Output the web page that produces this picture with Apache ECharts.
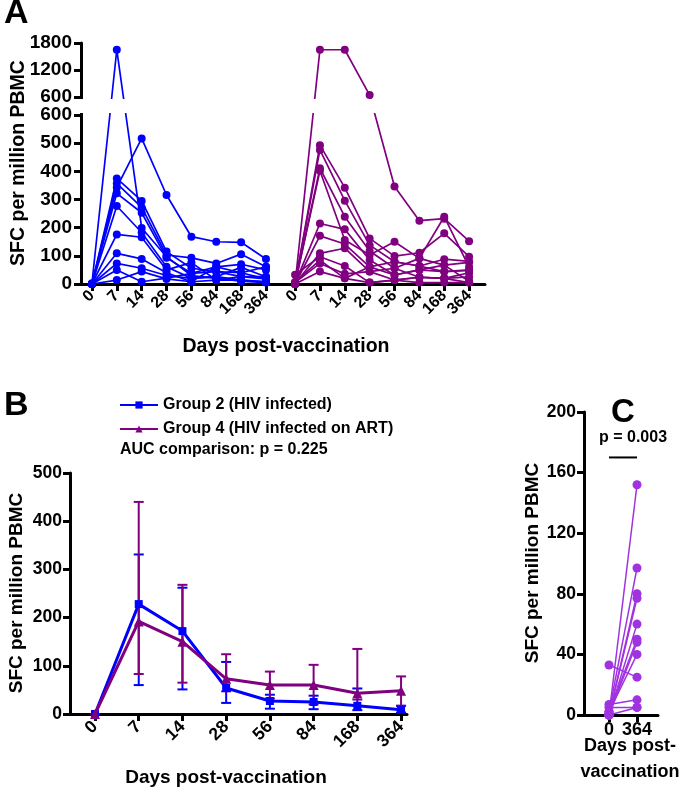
<!DOCTYPE html>
<html><head><meta charset="utf-8">
<script src="https://cdn.jsdelivr.net/npm/echarts@6/dist/echarts.min.js"></script>
<style>html,body{margin:0;padding:0;background:#fff}#c{width:680px;height:791px}</style>
</head><body><div id="c"></div>
<script>
// ---------- DATA ----------
const days = ['0','7','14','28','56','84','168','364'];

// Panel A, Group 2 (blue) individual subjects
const g2_s1  = [3, 1650, 199, 97, 30, 20, 10, 5];
const g2_s2  = [0, 343, 517, 316, 168, 150, 148, 89];
const g2_s3  = [0, 375, 295, 115, 56, 44, 40, 18];
const g2_s4  = [0, 357, 272, 103, 93, 73, 106, 61];
const g2_s5  = [0, 322, 253, 93, 38, 61, 70, 50];
const g2_s6  = [0, 277, 183, 61, 20, 26, 59, 26];
const g2_s7  = [0, 176, 166, 50, 76, 14, 26, 18];
const g2_s8  = [0, 109, 89, 40, 8, 61, 40, 61];
const g2_s9  = [0, 73, 56, 30, 20, 26, 14, 8];
const g2_s10 = [0, 50, 8, 21, 38, 44, 26, 26];
const g2_s11 = [0, 14, 44, 18, 8, 14, 14, 8];

// Panel A, Group 4 (purple) individual subjects
const g4_s1  = [0, 1650, 1650, 644, 346, 225, 232, 152];
const g4_s2  = [2, 493, 342, 162, 99, 111, 180, 97];
const g4_s3  = [0, 476, 296, 138, 79, 64, 88, 80];
const g4_s4  = [0, 411, 239, 117, 56, 91, 67, 77];
const g4_s5  = [0, 402, 156, 103, 150, 91, 239, 60];
const g4_s6  = [2, 215, 194, 85, 32, 50, 44, 50];
const g4_s7  = [0, 171, 142, 61, 79, 64, 44, 48];
const g4_s8  = [2, 109, 127, 44, 56, 24, 20, 40];
const g4_s9  = [33, 97, 64, 5, 14, 24, 20, 25];
const g4_s10 = [7, 85, 20, 61, 32, 50, 67, 10];
const g4_s11 = [5, 73, 36, 44, 14, 24, 20, 5];
const g4_s12 = [0, 44, 20, 5, 14, 5, 5, 5];

// Panel A y-axis tick labels
const aLowerTicks = [0, 100, 200, 300, 400, 500, 600];
const aUpperTicks = [600, 1200, 1800];

// Panel B means and error bars
const g2_mean = [0, 228, 172, 54, 27, 25, 17, 9];
const g2_hi   = [0, 331, 262, 108, 40, 38, 53, 17];
const g2_lo   = [0, 60, 51, 23, 11, 10, 8, 3];
const g4_mean = [0, 192, 150, 73, 60, 60, 43, 48];
const g4_hi   = [0, 440, 268, 124, 88, 102, 135, 78];
const g4_lo   = [0, 83, 65, 47, 32, 20, 30, 17];

// Panel C: Group 4 day 0 vs day 364
const cDays = ['0', '364'];
const c_day0   = [0, 2, 0, 0, 0, 2, 0, 2, 33, 7, 5, 0];
const c_day364 = [152, 97, 80, 77, 60, 50, 48, 40, 25, 10, 5, 5];
const c_sigLevel = 170;

// ---------- helpers ----------
const BLUE = '#0000FF', PURPLE = '#800080', VIOLET = '#A032E0';
const FONT = 'Liberation Sans, Arial, sans-serif';
const BREAK_LOW = 600, BREAK_GAP = 63.8, UPPER_RATIO = 0.16;
const G4_OFF = 8.17;
function tfUpper(v){ return BREAK_LOW + BREAK_GAP + (v - BREAK_LOW) * UPPER_RATIO; }
function tf(v){ return v <= BREAK_LOW ? v : tfUpper(v); }
function inv(d){ return d <= BREAK_LOW + 1e-6 ? d : BREAK_LOW + (d - BREAK_LOW - BREAK_GAP) / UPPER_RATIO; }
const aYTicks = aLowerTicks.map(v => v).concat(aUpperTicks.map(tfUpper));
const aXTicks = days.map((d,i)=>i).concat(days.map((d,i)=>G4_OFF + i));

const g2Subjects = [g2_s1,g2_s2,g2_s3,g2_s4,g2_s5,g2_s6,g2_s7,g2_s8,g2_s9,g2_s10,g2_s11];
const g4Subjects = [g4_s1,g4_s2,g4_s3,g4_s4,g4_s5,g4_s6,g4_s7,g4_s8,g4_s9,g4_s10,g4_s11,g4_s12];

const series = [];
g2Subjects.forEach((s, k) => series.push({
  type:'line', xAxisIndex:0, yAxisIndex:0, name:'g2_'+k,
  data: s.map((v,i)=>[i, tf(v)]), symbol:'circle', symbolSize:8,
  lineStyle:{color:BLUE,width:1.7}, itemStyle:{color:BLUE}, z:3, silent:true
}));
g4Subjects.forEach((s, k) => series.push({
  type:'line', xAxisIndex:0, yAxisIndex:0, name:'g4_'+k,
  data: s.map((v,i)=>[G4_OFF + i, tf(v)]), symbol:'circle', symbolSize:8,
  lineStyle:{color:PURPLE,width:1.7}, itemStyle:{color:PURPLE}, z:3, silent:true
}));
// break mask (hides the axis gap region)
series.push({
  type:'custom', xAxisIndex:0, yAxisIndex:0, z:20, silent:true, clip:false,
  data:[[0, BREAK_LOW]],
  renderItem: function(params, api){
    const cs = params.coordSys;
    const yLow = api.coord([0, BREAK_LOW])[1];
    const yUp = api.coord([0, BREAK_LOW + BREAK_GAP])[1];
    return {type:'rect', shape:{x: cs.x - 8, y: yUp + 2, width: cs.width + 12, height: yLow - yUp - 4},
      style:{fill:'#fff'}};
  }
});

function errRender(color){
  return function(params, api){
    const x = api.value(0), lo = api.value(1), hi = api.value(2);
    const a = api.coord([x, hi]), b = api.coord([x, lo]);
    const w = 5;
    const st = {stroke: color, lineWidth: 2};
    return {type:'group', children:[
      {type:'line', shape:{x1:a[0],y1:a[1],x2:b[0],y2:b[1]}, style:st},
      {type:'line', shape:{x1:a[0]-w,y1:a[1],x2:a[0]+w,y2:a[1]}, style:st},
      {type:'line', shape:{x1:b[0]-w,y1:b[1],x2:b[0]+w,y2:b[1]}, style:st}
    ]};
  };
}
series.push({type:'custom', xAxisIndex:1, yAxisIndex:1, z:4, silent:true,
  data: days.map((d,i)=>[i, g2_lo[i], g2_hi[i]]), encode:{x:0,y:[1,2]}, renderItem: errRender(BLUE)});
series.push({type:'custom', xAxisIndex:1, yAxisIndex:1, z:4, silent:true,
  data: days.map((d,i)=>[i, g4_lo[i], g4_hi[i]]), encode:{x:0,y:[1,2]}, renderItem: errRender(PURPLE)});
series.push({type:'line', name:'Group 2 (HIV infected)', xAxisIndex:1, yAxisIndex:1, z:5,
  data: g2_mean.map((v,i)=>[i,v]), symbol:'rect', symbolSize:8,
  lineStyle:{color:BLUE,width:3}, itemStyle:{color:BLUE}});
series.push({type:'line', name:'Group 4 (HIV infected on ART)', xAxisIndex:1, yAxisIndex:1, z:6,
  data: g4_mean.map((v,i)=>[i,v]), symbol:'triangle', symbolSize:10,
  lineStyle:{color:PURPLE,width:3}, itemStyle:{color:PURPLE}});

// Panel C
c_day0.forEach((v,k)=>series.push({type:'line', xAxisIndex:2, yAxisIndex:2, silent:true,
  data:[[0, v],[1, c_day364[k]]], symbol:'circle', symbolSize:9,
  lineStyle:{color:VIOLET,width:1.5}, itemStyle:{color:VIOLET}}));
series.push({type:'line', xAxisIndex:2, yAxisIndex:2, silent:true, symbol:'none',
  data:[[0, c_sigLevel],[1, c_sigLevel]], lineStyle:{color:'#000',width:2}});

const bold = (size)=>({fontFamily:FONT, fontWeight:'bold', fontSize:size, color:'#000'});
const axLine = {show:true, onZero:false, lineStyle:{color:'#000', width:3}};
const axTick = (len, vals)=>({show:true, length:len, customValues: vals, lineStyle:{color:'#000', width:3}});

const option = {
  animation:false,
  backgroundColor:'#fff',
  grid:[
    {left:81, top:43, width:404, height:241},
    {left:70, top:473, width:337, height:241},
    {left:584, top:412, width:74, height:303}
  ],
  xAxis:[
    {gridIndex:0, type:'value', min:-0.44, max:15.81, axisLine:axLine,
     axisTick: axTick(7, aXTicks), splitLine:{show:false},
     axisLabel:{customValues:aXTicks, rotate:45, margin:9, ...bold(16),
       formatter:(v)=>days[Math.round(v >= G4_OFF - 0.5 ? v - G4_OFF : v)]}},
    {gridIndex:1, type:'value', min:-0.572, max:7.136, axisLine:axLine,
     axisTick: axTick(7, days.map((d,i)=>i)), splitLine:{show:false},
     axisLabel:{customValues:days.map((d,i)=>i), rotate:45, margin:10, ...bold(17.5),
       formatter:(v)=>days[Math.round(v)]}},
    {gridIndex:2, type:'value', min:-0.893, max:1.75, axisLine:axLine,
     axisTick: axTick(7, [0,1]), splitLine:{show:false},
     axisLabel:{customValues:[0,1], margin:6, ...bold(18), formatter:(v)=>cDays[Math.round(v)]}}
  ],
  yAxis:[
    {gridIndex:0, type:'value', min:0, max:tfUpper(1800), axisLine:axLine,
     axisTick: axTick(7, aYTicks), splitLine:{show:false},
     axisLabel:{customValues:aYTicks, margin:9, ...bold(19), formatter:(v)=>String(Math.round(inv(v)))}},
    {gridIndex:1, type:'value', min:0, max:500, interval:100, axisLine:axLine,
     axisTick:{show:true, length:7, lineStyle:{color:'#000',width:3}}, splitLine:{show:false},
     axisLabel:{margin:8, ...bold(17.5)}},
    {gridIndex:2, type:'value', min:0, max:200, interval:40, axisLine:axLine,
     axisTick:{show:true, length:7, lineStyle:{color:'#000',width:3}}, splitLine:{show:false},
     axisLabel:{margin:8, ...bold(17.5)}}
  ],
  legend:{data:['Group 2 (HIV infected)','Group 4 (HIV infected on ART)'], orient:'vertical',
    left:114, top:392, itemWidth:38, itemHeight:9, itemGap:8, textStyle:bold(16), selectedMode:false},
  graphic:[
    {type:'text', left:4, top:-3, style:{text:'A', font:'bold 34px '+FONT, fill:'#000'}},
    {type:'text', left:4, top:389, style:{text:'B', font:'bold 34px '+FONT, fill:'#000'}},
    {type:'text', left:611, top:396, style:{text:'C', font:'bold 33px '+FONT, fill:'#000'}},
    {type:'text', x:19, y:163, rotation:Math.PI/2, style:{text:'SFC per million PBMC', font:'bold 19.5px '+FONT, fill:'#000', align:'center', verticalAlign:'middle'}},
    {type:'text', x:286, y:347, style:{text:'Days post-vaccination', font:'bold 19.5px '+FONT, fill:'#000', align:'center', verticalAlign:'middle'}},
    {type:'text', x:120, y:450, style:{text:'AUC comparison: p = 0.225', font:'bold 16px '+FONT, fill:'#000', align:'left', verticalAlign:'middle'}},
    {type:'text', x:17, y:593, rotation:Math.PI/2, style:{text:'SFC per million PBMC', font:'bold 19px '+FONT, fill:'#000', align:'center', verticalAlign:'middle'}},
    {type:'text', x:226, y:778, style:{text:'Days post-vaccination', font:'bold 19px '+FONT, fill:'#000', align:'center', verticalAlign:'middle'}},
    {type:'text', x:533, y:563, rotation:Math.PI/2, style:{text:'SFC per million PBMC', font:'bold 19px '+FONT, fill:'#000', align:'center', verticalAlign:'middle'}},
    {type:'text', x:633, y:438, style:{text:'p = 0.003', font:'bold 16px '+FONT, fill:'#000', align:'center', verticalAlign:'middle'}},
    {type:'text', x:630, y:746, style:{text:'Days post-', font:'bold 18px '+FONT, fill:'#000', align:'center', verticalAlign:'middle'}},
    {type:'text', x:630, y:772, style:{text:'vaccination', font:'bold 18px '+FONT, fill:'#000', align:'center', verticalAlign:'middle'}}
  ],
  series: series
};
const chart = echarts.init(document.getElementById('c'), null, {renderer:'canvas'});
chart.setOption(option);
</script></body></html>
